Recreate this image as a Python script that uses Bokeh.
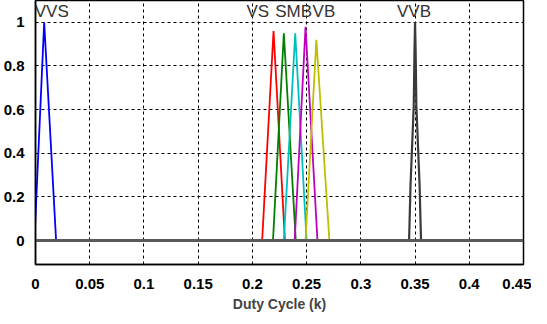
from bokeh.plotting import figure
from bokeh.models import ColumnDataSource, LabelSet, Range1d, FixedTicker
from bokeh.core.properties import value
from bokeh.embed import file_html
from bokeh.resources import INLINE

# membership functions: x breakpoints and membership values
vvs_x = [-0.001, 0.008, 0.019]
vvs_y = [0.0, 1.0, 0.0]
vs_x = [0.209, 0.2195, 0.230]
vs_y = [0.0, 0.96, 0.0]
s_x = [0.219, 0.229, 0.240]
s_y = [0.0, 0.95, 0.0]
m_x = [0.229, 0.2395, 0.250]
m_y = [0.0, 0.95, 0.0]
b_x = [0.239, 0.249, 0.260]
b_y = [0.0, 0.98, 0.0]
vb_x = [0.249, 0.259, 0.271]
vb_y = [0.0, 0.92, 0.0]
vvb_x = [0.3445, 0.3458, 0.3488, 0.3495, 0.35, 0.3505, 0.3512, 0.3542, 0.3555]
vvb_y = [0.0, 0.25, 0.62, 0.88, 1.0, 0.88, 0.62, 0.25, 0.0]
base_x = [0.0, 0.45]
base_y = [0.0, 0.0]

label_text = ["VVS", "VS", "SMB", "VB", "VVB"]
label_x = [0.0150, 0.205, 0.238, 0.266, 0.349]
label_y = [1.05, 1.05, 1.05, 1.05, 1.05]

x_ticks = [0, 0.05, 0.1, 0.15, 0.2, 0.25, 0.3, 0.35, 0.4, 0.45]
y_ticks = [0, 0.2, 0.4, 0.6, 0.8, 1.0]

FONT = "Liberation Sans"

p = figure(width=531, height=314, output_backend="svg", toolbar_location=None,
           x_range=Range1d(0, 0.45), y_range=Range1d(-0.11, 1.1),
           min_border_left=26, min_border_right=8, min_border_top=0, min_border_bottom=10)
p.background_fill_color = "white"
p.border_fill_color = "white"
p.outline_line_color = "black"
p.outline_line_width = 1.5

series = [
    (vvs_x, vvs_y, "#0000ff"),
    (vs_x, vs_y, "#ff0000"),
    (s_x, s_y, "#008000"),
    (m_x, m_y, "#00bfbf"),
    (b_x, b_y, "#bf00bf"),
    (vb_x, vb_y, "#bfbf00"),
]
for xs, ys, c in series:
    p.line(xs, ys, line_color=c, line_width=1.8)
p.line(vvb_x, vvb_y, line_color="#3a3a3a", line_width=2.2)
p.line(base_x, base_y, line_color="#5a5a5a", line_width=3)

src = ColumnDataSource(dict(x=label_x, y=label_y, t=label_text))
p.add_layout(LabelSet(x="x", y="y", text="t", source=src, text_align="center",
                      text_baseline="middle", text_font=value(FONT),
                      text_font_size=value("17px"), text_color="#333333"))

for ax in (p.xaxis[0], p.yaxis[0]):
    ax.major_label_text_font = FONT
    ax.major_label_text_font_style = "bold"
    ax.major_label_text_font_size = "15px"
    ax.major_label_text_color = "black"
    ax.major_tick_line_color = None
    ax.minor_tick_line_color = None
    ax.axis_line_color = "black"
    ax.axis_line_width = 1.5

p.xaxis.ticker = FixedTicker(ticks=x_ticks)
p.yaxis.ticker = FixedTicker(ticks=y_ticks)
p.xaxis.major_label_overrides = {0: "0", 0.05: "0.05", 0.1: "0.1", 0.15: "0.15", 0.2: "0.2",
                                 0.25: "0.25", 0.3: "0.3", 0.35: "0.35", 0.4: "0.4", 0.45: "0.45"}
p.yaxis.major_label_overrides = {0: "0", 0.2: "0.2", 0.4: "0.4", 0.6: "0.6", 0.8: "0.8", 1.0: "1"}
p.xaxis.major_label_standoff = 8
p.yaxis.major_label_standoff = 5
p.xaxis.axis_label = "Duty Cycle (k)"
p.xaxis.axis_label_text_font = FONT
p.xaxis.axis_label_text_font_style = "bold"
p.xaxis.axis_label_text_font_size = "14px"
p.xaxis.axis_label_standoff = 4

p.xgrid.grid_line_color = "black"
p.ygrid.grid_line_color = "black"
p.xgrid.grid_line_dash = "3 3"
p.ygrid.grid_line_dash = "3 3"
p.xgrid.grid_line_width = 1
p.ygrid.grid_line_width = 1

open("out.html", "w").write(file_html(p, INLINE))
